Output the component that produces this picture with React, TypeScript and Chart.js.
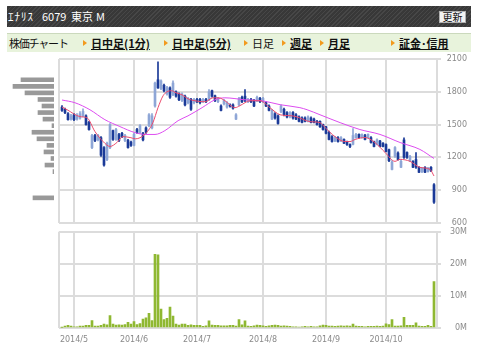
import React, { useEffect, useRef } from "react";
import { Chart, registerables } from "chart.js";
Chart.register(...registerables);

// ---- axis / tick data ----
const monthTickIndex = [4, 24, 45, 67, 88, 108];
const monthLabels = ["2014/5", "2014/6", "2014/7", "2014/8", "2014/9", "2014/10"];
const xMin = -1;
const xMax = 125;
const priceMin = 600;
const priceMax = 2100;
const priceStep = 300;
const volMax = 30;
const volStep = 10;

// ---- daily candles (yen) ----
const openP = [
  1660, 1640, 1600, 1550, 1590, 1550, 1560, 1580, 1580, 1520,
  1290, 1400, 1360, 1380, 1290, 1180, 1290, 1445, 1364, 1409,
  1420, 1355, 1355, 1340, 1310, 1455, 1427, 1420, 1470, 1490,
  1470, 1670, 1910, 1830, 1860, 1780, 1836, 1773, 1800, 1780,
  1720, 1760, 1700, 1730, 1700, 1730, 1730, 1710, 1730, 1730,
  1810, 1764, 1710, 1670, 1690, 1660, 1680, 1680, 1550, 1680,
  1750, 1760, 1710, 1730, 1720, 1720, 1740, 1710, 1700, 1670,
  1550, 1600, 1580, 1620, 1640, 1610, 1570, 1610, 1590, 1570,
  1560, 1560, 1530, 1560, 1550, 1530, 1530, 1500, 1480, 1430,
  1390, 1350, 1380, 1350, 1364, 1345, 1318, 1320, 1380, 1410,
  1382, 1400, 1380, 1380, 1345, 1320, 1350, 1330, 1318, 1270,
  1090, 1210, 1240, 1110, 1360, 1245, 1170, 1164, 1180, 1109,
  1070, 1109, 1070, 1110, 950,
];
const closeP = [
  1630, 1610, 1545, 1580, 1545, 1580, 1600, 1620, 1500, 1455,
  1400, 1355, 1400, 1220, 1130, 1330, 1500, 1364, 1455, 1355,
  1390, 1400, 1290, 1310, 1410, 1427, 1490, 1360, 1430, 1590,
  1580, 1880, 1836, 1900, 1810, 1840, 1750, 1880, 1760, 1727,
  1780, 1680, 1740, 1640, 1730, 1710, 1700, 1730, 1710, 1800,
  1760, 1720, 1740, 1630, 1720, 1700, 1670, 1650, 1590, 1740,
  1710, 1720, 1730, 1710, 1670, 1750, 1710, 1740, 1670, 1630,
  1630, 1560, 1510, 1670, 1590, 1570, 1610, 1560, 1550, 1530,
  1520, 1530, 1570, 1520, 1520, 1500, 1480, 1455, 1420, 1364,
  1345, 1380, 1345, 1380, 1330, 1318, 1300, 1400, 1410, 1380,
  1409, 1364, 1410, 1336, 1300, 1360, 1300, 1300, 1254, 1170,
  1160, 1290, 1180, 1164, 1200, 1200, 1210, 1110, 1110, 1064,
  1100, 1064, 1100, 1080, 790,
];
const highP = [
  1675, 1650, 1610, 1595, 1600, 1600, 1620, 1645, 1590, 1530,
  1410, 1410, 1410, 1390, 1300, 1340, 1510, 1450, 1465, 1420,
  1430, 1410, 1365, 1350, 1420, 1465, 1500, 1430, 1480, 1600,
  1600, 1890, 2073, 1910, 1870, 1850, 1845, 1900, 1810, 1790,
  1790, 1770, 1750, 1740, 1740, 1740, 1740, 1740, 1740, 1820,
  1815, 1770, 1750, 1680, 1730, 1710, 1690, 1690, 1600, 1750,
  1760, 1820, 1740, 1740, 1730, 1760, 1750, 1750, 1710, 1680,
  1640, 1610, 1590, 1680, 1650, 1620, 1620, 1620, 1600, 1580,
  1570, 1570, 1580, 1570, 1560, 1540, 1535, 1505, 1485, 1440,
  1400, 1390, 1390, 1390, 1370, 1350, 1325, 1464, 1420, 1415,
  1415, 1410, 1415, 1390, 1350, 1370, 1355, 1335, 1325, 1275,
  1170, 1300, 1250, 1175, 1380, 1250, 1220, 1170, 1245, 1115,
  1110, 1115, 1110, 1115, 960,
];
const lowP = [
  1620, 1600, 1540, 1540, 1535, 1540, 1550, 1570, 1495, 1450,
  1280, 1345, 1350, 1210, 1120, 1170, 1280, 1355, 1355, 1345,
  1380, 1345, 1285, 1300, 1305, 1420, 1420, 1350, 1420, 1480,
  1460, 1660, 1830, 1820, 1800, 1770, 1740, 1765, 1750, 1720,
  1710, 1670, 1690, 1630, 1690, 1700, 1690, 1700, 1700, 1720,
  1750, 1710, 1700, 1625, 1680, 1650, 1660, 1640, 1545, 1670,
  1700, 1710, 1700, 1700, 1665, 1710, 1700, 1700, 1665, 1625,
  1545, 1550, 1505, 1610, 1580, 1560, 1560, 1550, 1545, 1525,
  1515, 1525, 1525, 1515, 1515, 1495, 1475, 1450, 1415, 1360,
  1340, 1345, 1340, 1345, 1325, 1310, 1290, 1315, 1375, 1375,
  1375, 1360, 1375, 1330, 1295, 1315, 1295, 1295, 1250, 1160,
  1085, 1200, 1175, 1105, 1190, 1190, 1160, 1105, 1100, 1060,
  1060, 1060, 1065, 1070, 780,
];

// ---- daily volume (million shares) ----
const volumeM = [
  0.2, 0.6, 0.8, 0.6, 0.4, 0.4, 0.6, 0.6, 0.8, 0.8,
  2.3, 0.6, 0.6, 0.8, 1.2, 1.0, 3.9, 1.2, 0.9, 1.0,
  0.9, 1.1, 1.8, 1.2, 2.0, 1.1, 1.4, 2.8, 3.2, 4.6,
  2.3, 23.0, 22.8, 5.9, 2.6, 3.0, 6.5, 3.7, 1.2, 0.9,
  1.2, 1.2, 0.8, 1.0, 0.8, 0.8, 0.8, 0.5, 0.7, 2.2,
  0.9, 0.8, 0.8, 0.7, 0.7, 0.7, 0.8, 0.8, 0.6, 2.6,
  1.0, 2.2, 0.6, 0.5, 0.7, 0.9, 0.8, 0.7, 0.5, 0.7,
  0.8, 0.9, 0.8, 0.6, 0.7, 0.6, 0.5, 0.4, 0.4, 0.3,
  0.4, 0.5, 0.4, 0.5, 0.4, 0.4, 0.7, 0.9, 0.8, 0.6,
  0.6, 0.5, 0.6, 0.7, 0.6, 0.7, 0.6, 1.2, 0.6, 0.5,
  0.5, 0.4, 0.5, 0.5, 0.5, 0.6, 0.5, 0.6, 1.3, 1.1,
  2.6, 0.6, 0.6, 0.7, 3.3, 0.8, 0.8, 0.8, 1.6, 0.6,
  0.5, 0.5, 0.8, 0.5, 14.5,
];

// ---- moving averages (day index, yen) ----
const maShortIdx = [0, 1.7, 6, 8.3, 11, 13.7, 16, 18.3, 20.3, 22.7, 24.5, 27.5, 30.3, 32, 33.7, 35, 36.5, 38, 40, 42, 44.3, 47.7, 50.3, 52.3, 54.3, 57.7, 59.3, 62.7, 66, 69.3, 72.7, 76, 78, 82.7, 86, 87.7, 91, 94.3, 96, 97.7, 101, 104.3, 107.7, 111, 112.7, 116, 119.3, 122.7, 124];
const maShortVal = [1660, 1636, 1573, 1563, 1436, 1345, 1300, 1336, 1390, 1382, 1370, 1409, 1518, 1655, 1764, 1800, 1810, 1791, 1773, 1736, 1718, 1709, 1745, 1745, 1718, 1655, 1673, 1718, 1718, 1655, 1590, 1582, 1573, 1527, 1518, 1473, 1390, 1345, 1345, 1364, 1382, 1336, 1245, 1164, 1182, 1164, 1109, 1090, 1030];
const maLongIdx = [0, 4.3, 9.3, 14.3, 19.3, 24.3, 27.7, 31, 34.3, 38.7, 42, 46.7, 51, 54.3, 61, 66.7, 72.7, 79.3, 81.7, 86, 92.7, 99.3, 106, 112.7, 119.3, 124];
const maLongVal = [1725, 1700, 1636, 1545, 1482, 1427, 1410, 1410, 1445, 1536, 1580, 1655, 1727, 1745, 1727, 1718, 1682, 1655, 1636, 1590, 1518, 1455, 1410, 1336, 1273, 1190];

// ---- volume by price (price band centre, thousand shares) ----
const profilePrice = [1910, 1850, 1790, 1730, 1670, 1610, 1550, 1490, 1430, 1370, 1310, 1250, 1190, 1130, 1070, 830];
const profileVol = [330, 410, 290, 160, 120, 160, 110, 20, 220, 170, 70, 100, 30, 90, 10, 210];
const profileMax = 540;

const GRID = "#dcdcdc";
const LABEL = "#8a8a8a";
const DARK = "#1b3a98";
const LIGHT = "#8ea6d6";
const TICKFONT = { family: "DejaVu Sans", size: 8 };

function xScale(showLabels: boolean) {
  return {
    type: "linear",
    min: xMin,
    max: xMax,
    offset: false,
    afterBuildTicks: (s: any) => {
      s.ticks = [xMin, ...monthTickIndex, xMax].map((v) => ({ value: v }));
    },
    afterFit: (s: any) => {
      s.height = showLabels ? 26 : 0;
    },
    grid: { color: GRID, lineWidth: 2, drawTicks: false, offset: false },
    border: { display: false },
    ticks: {
      display: showLabels,
      autoSkip: false,
      maxRotation: 0,
      padding: 7,
      color: LABEL,
      font: TICKFONT,
      callback: (v: any) => {
        const k = monthTickIndex.indexOf(v);
        return k >= 0 ? monthLabels[k] : "";
      },
    },
  };
}

export default function App() {
  const priceRef = useRef<HTMLCanvasElement>(null);
  const volRef = useRef<HTMLCanvasElement>(null);
  const profRef = useRef<HTMLCanvasElement>(null);

  useEffect(() => {
    const idx = openP.map((_, i) => i);
    const up = (i: number) => closeP[i] >= openP[i];
    const colors = idx.map((i) => (up(i) ? LIGHT : DARK));

    const price = new Chart(priceRef.current as HTMLCanvasElement, {
      type: "bar",
      data: {
        datasets: [
          {
            type: "line",
            data: maShortIdx.map((x, k) => ({ x, y: maShortVal[k] })),
            borderColor: "#ec4a6c",
            borderWidth: 1,
            pointRadius: 0,
            cubicInterpolationMode: "monotone",
            order: 0,
          },
          {
            type: "line",
            data: maLongIdx.map((x, k) => ({ x, y: maLongVal[k] })),
            borderColor: "#dd4cf0",
            borderWidth: 1,
            pointRadius: 0,
            cubicInterpolationMode: "monotone",
            order: 0,
          },
          {
            type: "bar",
            data: idx.map((i) => ({ x: i, y: [openP[i], closeP[i]] })),
            backgroundColor: colors,
            barThickness: 2,
            grouped: false,
            order: 1,
          },
          {
            type: "bar",
            data: idx.map((i) => ({ x: i, y: [lowP[i], highP[i]] })),
            backgroundColor: colors,
            barThickness: 1,
            grouped: false,
            order: 2,
          },
        ] as any,
      },
      options: {
        animation: false,
        responsive: false,
        devicePixelRatio: 1,
        layout: { padding: { left: 59, right: 13, top: 9, bottom: 7 } },
        plugins: { legend: { display: false }, tooltip: { enabled: false } },
        scales: {
          x: xScale(false) as any,
          y: {
            type: "linear",
            position: "right",
            min: priceMin,
            max: priceMax,
            afterFit: (s: any) => {
              s.width = 30;
            },
            grid: { color: GRID, lineWidth: 2, drawTicks: true, tickLength: 4 },
            border: { display: false },
            ticks: {
              stepSize: priceStep,
              crossAlign: "far",
              padding: 2,
              color: LABEL,
              font: TICKFONT,
              callback: (v: any) => String(v),
            },
          },
        },
      },
    });

    const vol = new Chart(volRef.current as HTMLCanvasElement, {
      type: "bar",
      data: {
        datasets: [
          {
            data: idx.map((i) => ({ x: i, y: volumeM[i] })),
            backgroundColor: "#8fb832",
            barThickness: 2,
            grouped: false,
          },
        ] as any,
      },
      options: {
        animation: false,
        responsive: false,
        devicePixelRatio: 1,
        layout: { padding: { left: 59, right: 13, top: 5, bottom: 0 } },
        plugins: { legend: { display: false }, tooltip: { enabled: false } },
        scales: {
          x: xScale(true) as any,
          y: {
            type: "linear",
            position: "right",
            min: 0,
            max: volMax,
            afterFit: (s: any) => {
              s.width = 30;
            },
            grid: { color: GRID, lineWidth: 2, drawTicks: true, tickLength: 4 },
            border: { display: false },
            ticks: {
              stepSize: volStep,
              crossAlign: "far",
              padding: 2,
              color: LABEL,
              font: TICKFONT,
              callback: (v: any) => v + "M",
            },
          },
        },
      },
    });

    const prof = new Chart(profRef.current as HTMLCanvasElement, {
      type: "bar",
      data: {
        datasets: [
          {
            data: profilePrice.map((p, k) => ({ x: profileVol[k], y: p })),
            backgroundColor: "#999999",
            barThickness: 4,
          },
        ] as any,
      },
      options: {
        indexAxis: "y",
        animation: false,
        responsive: false,
        devicePixelRatio: 1,
        layout: { padding: { left: 0, right: 5, top: 9, bottom: 7 } },
        plugins: { legend: { display: false }, tooltip: { enabled: false } },
        scales: {
          y: { type: "linear", min: priceMin, max: priceMax, display: false, offset: false } as any,
          x: { type: "linear", min: 0, max: profileMax, reverse: true, display: false } as any,
        },
      },
    });

    return () => {
      price.destroy();
      vol.destroy();
      prof.destroy();
    };
  }, []);

  const navItem = (left: number, text: string, link: boolean) => (
    <React.Fragment>
      <span
        style={{
          position: "absolute",
          left: left - 8,
          top: 6,
          width: 0,
          height: 0,
          borderLeft: "4px solid #f29a1e",
          borderTop: "3px solid transparent",
          borderBottom: "3px solid transparent",
        }}
      />
      <span
        style={{
          position: "absolute",
          left,
          top: 0,
          lineHeight: "18px",
          fontSize: 11,
          fontWeight: link ? "bold" : "normal",
          textDecoration: link ? "underline" : "none",
          color: "#111",
          whiteSpace: "nowrap",
        }}
      >
        {text}
      </span>
    </React.Fragment>
  );

  return (
    <div
      style={{
        position: "absolute",
        left: 0,
        top: 0,
        width: 480,
        height: 354,
        background: "#fff",
        overflow: "hidden",
        fontFamily: "'Noto Sans CJK JP', sans-serif",
      }}
    >
      <div
        style={{
          position: "absolute",
          left: 7,
          top: 6,
          width: 464,
          height: 21,
          background:
            "repeating-linear-gradient(135deg, #474747 0px, #474747 1px, #383838 1px, #383838 3px)",
          color: "#fff",
          fontSize: 11,
          lineHeight: "21px",
        }}
      >
        <span style={{ position: "absolute", left: 1, top: 0, letterSpacing: "1px" }}>ｴﾅﾘｽ</span>
        <span style={{ position: "absolute", left: 35, top: 0 }}>6079</span>
        <span style={{ position: "absolute", left: 64, top: 0 }}>東京</span>
        <span style={{ position: "absolute", left: 89, top: 0 }}>M</span>
        <div
          style={{
            position: "absolute",
            left: 432,
            top: 5,
            width: 27,
            height: 12,
            boxSizing: "border-box",
            background: "#f3f3f3",
            border: "1px solid #b0b0b0",
            color: "#111",
            fontSize: 10,
            lineHeight: "10px",
            textAlign: "center",
          }}
        >
          更新
        </div>
      </div>
      <div
        style={{
          position: "absolute",
          left: 7,
          top: 33,
          width: 464,
          height: 19,
          background: "#e8f3dc",
          borderTop: "1px solid #cbd9bd",
          boxSizing: "border-box",
        }}
      >
        <span
          style={{
            position: "absolute",
            left: 2,
            top: 0,
            lineHeight: "18px",
            fontSize: 11,
            letterSpacing: "-1.2px",
            color: "#111",
            whiteSpace: "nowrap",
          }}
        >
          株価チャート
        </span>
        {navItem(84, "日中足(1分)", true)}
        {navItem(165, "日中足(5分)", true)}
        {navItem(245, "日足", false)}
        {navItem(283, "週足", true)}
        {navItem(321, "月足", true)}
        {navItem(392, "証金･信用", true)}
      </div>
      <canvas
        ref={profRef}
        width={59}
        height={180}
        style={{ position: "absolute", left: 0, top: 50, width: 59, height: 180 }}
      />
      <canvas
        ref={priceRef}
        width={480}
        height={180}
        style={{ position: "absolute", left: 0, top: 50, width: 480, height: 180 }}
      />
      <canvas
        ref={volRef}
        width={480}
        height={129}
        style={{ position: "absolute", left: 0, top: 225, width: 480, height: 129 }}
      />
    </div>
  );
}
